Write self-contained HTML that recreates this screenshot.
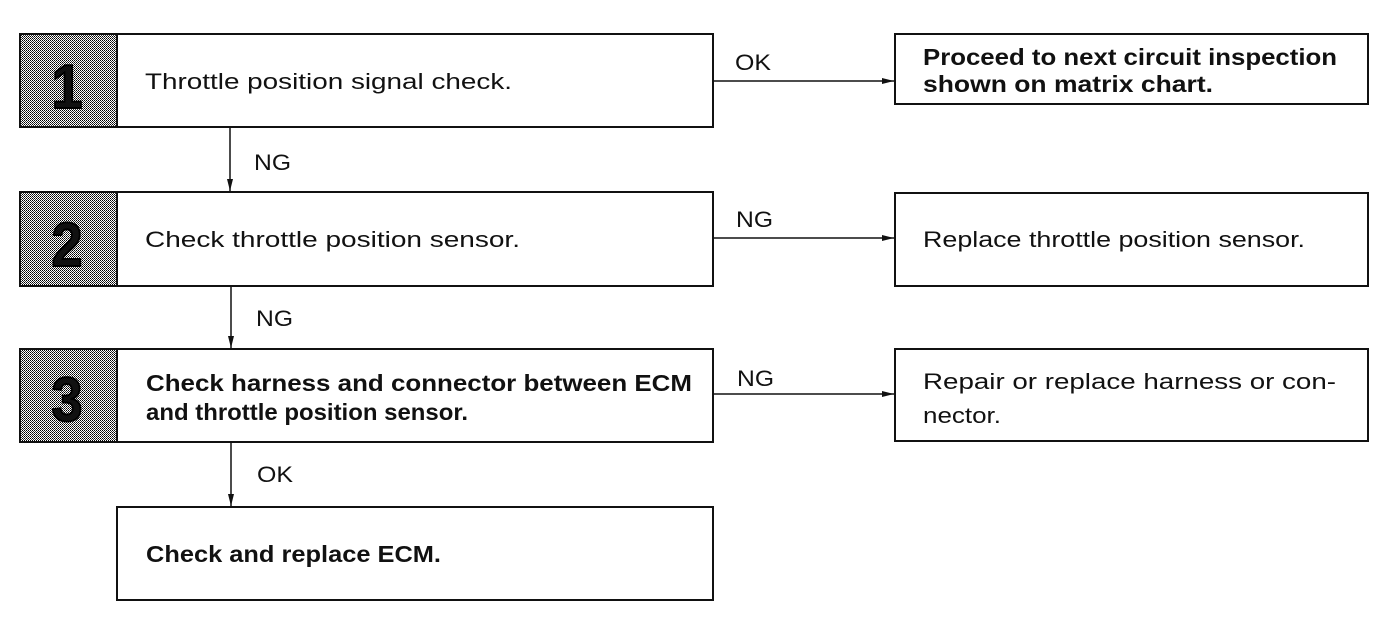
<!DOCTYPE html>
<html><head><meta charset="utf-8"><style>
html,body{margin:0;padding:0;background:#fff;}
svg{display:block;}
text{font-family:"Liberation Sans",sans-serif;fill:#111;}
</style></head><body>
<svg width="1392" height="640" viewBox="0 0 1392 640" xmlns="http://www.w3.org/2000/svg">
<defs>
<pattern id="d" width="2" height="2" patternUnits="userSpaceOnUse">
<rect width="2" height="2" fill="#fff"/><rect width="1" height="1" fill="#000"/><rect x="1" y="1" width="1" height="1" fill="#333"/>
</pattern>
<marker id="a" markerWidth="12" markerHeight="8" refX="12" refY="4" orient="auto" markerUnits="userSpaceOnUse">
<path d="M0,1 L12,4 L0,7 Z" fill="#111"/>
</marker>
</defs>
<g stroke="#111" stroke-width="2" fill="none">
<rect x="20" y="34" width="693" height="93"/>
<rect x="20" y="192" width="693" height="94"/>
<rect x="20" y="349" width="693" height="93"/>
<rect x="117" y="507" width="596" height="93"/>
<rect x="895" y="34" width="473" height="70"/>
<rect x="895" y="193" width="473" height="93"/>
<rect x="895" y="349" width="473" height="92"/>
</g>
<g fill="url(#d)" stroke="#111" stroke-width="2">
<rect x="20" y="34" width="97" height="93"/>
<rect x="20" y="192" width="97" height="94"/>
<rect x="20" y="349" width="97" height="93"/>
</g>
<g font-weight="bold" font-size="62" text-anchor="middle" stroke="#000" stroke-width="2">
<text x="67" y="108" transform="translate(67 0) scale(0.9 1) translate(-67 0)">1</text>
<text x="67" y="266" transform="translate(67 0) scale(0.9 1) translate(-67 0)">2</text>
<text x="67" y="421" transform="translate(67 0) scale(0.9 1) translate(-67 0)">3</text>
</g>
<g stroke="#111" stroke-width="1.5" marker-end="url(#a)">
<line x1="230" y1="127" x2="230" y2="191"/>
<line x1="231" y1="286" x2="231" y2="348"/>
<line x1="231" y1="442" x2="231" y2="506"/>
<line x1="713" y1="81" x2="894" y2="81"/>
<line x1="713" y1="238" x2="894" y2="238"/>
<line x1="713" y1="394" x2="894" y2="394"/>
</g>
<g font-size="22">
<text x="145" y="89" textLength="367" lengthAdjust="spacingAndGlyphs">Throttle position signal check.</text>
<text x="145" y="247" textLength="375" lengthAdjust="spacingAndGlyphs">Check throttle position sensor.</text>
<text x="146" y="391" font-weight="bold" font-size="23" textLength="546" lengthAdjust="spacingAndGlyphs">Check harness and connector between ECM</text>
<text x="146" y="420" font-weight="bold" font-size="23" textLength="322" lengthAdjust="spacingAndGlyphs">and throttle position sensor.</text>
<text x="146" y="562" font-weight="bold" font-size="23" textLength="295" lengthAdjust="spacingAndGlyphs">Check and replace ECM.</text>
<text x="923" y="65" font-weight="bold" font-size="23" textLength="414" lengthAdjust="spacingAndGlyphs">Proceed to next circuit inspection</text>
<text x="923" y="92" font-weight="bold" font-size="23" textLength="290" lengthAdjust="spacingAndGlyphs">shown on matrix chart.</text>
<text x="923" y="247" textLength="382" lengthAdjust="spacingAndGlyphs">Replace throttle position sensor.</text>
<text x="923" y="389" textLength="413" lengthAdjust="spacingAndGlyphs">Repair or replace harness or con-</text>
<text x="923" y="423" textLength="78" lengthAdjust="spacingAndGlyphs">nector.</text>
<text x="735" y="70" textLength="36" lengthAdjust="spacingAndGlyphs">OK</text>
<text x="736" y="227" textLength="37" lengthAdjust="spacingAndGlyphs">NG</text>
<text x="737" y="386" textLength="37" lengthAdjust="spacingAndGlyphs">NG</text>
<text x="254" y="170" textLength="37" lengthAdjust="spacingAndGlyphs">NG</text>
<text x="256" y="326" textLength="37" lengthAdjust="spacingAndGlyphs">NG</text>
<text x="257" y="482" textLength="36" lengthAdjust="spacingAndGlyphs">OK</text>
</g>
</svg>
</body></html>
